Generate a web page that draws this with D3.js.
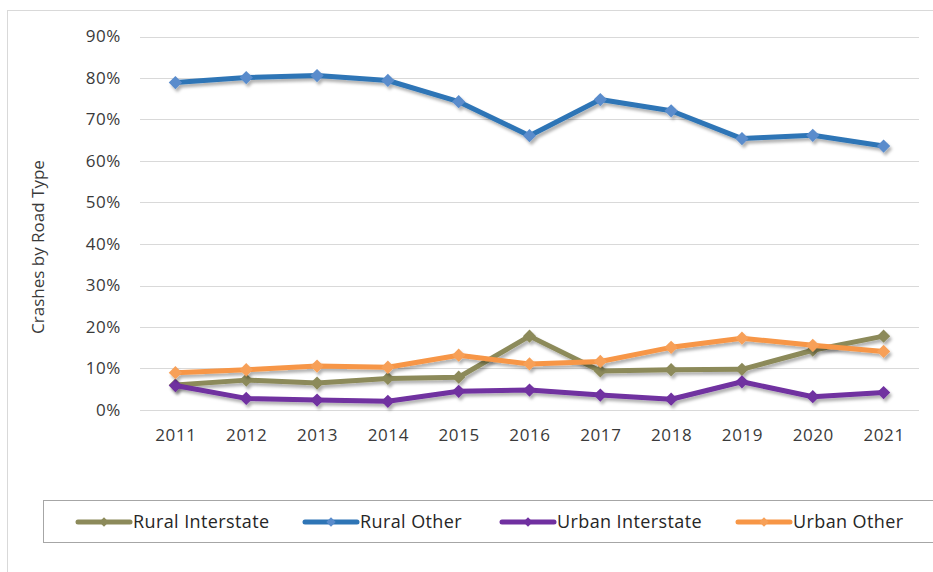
<!DOCTYPE html>
<html>
<head>
<meta charset="utf-8">
<script src="https://cdn.jsdelivr.net/npm/d3@7"></script>
<style>
  html, body { margin: 0; padding: 0; background: #fff; }
  svg { display: block; font-family: "Open Sans", "Noto Sans", sans-serif; }
</style>
</head>
<body>
<svg id="chart" width="933" height="572"></svg>
<script>
const years = ["2011","2012","2013","2014","2015","2016","2017","2018","2019","2020","2021"];
const seriesNames = ["Rural Interstate", "Rural Other", "Urban Interstate", "Urban Other"];
const ruralInterstate = [6.0, 7.2, 6.5, 7.6, 7.9, 17.8, 9.4, 9.7, 9.8, 14.4, 17.8];
const ruralOther      = [78.9, 80.1, 80.6, 79.4, 74.3, 66.1, 74.8, 72.1, 65.4, 66.2, 63.6];
const urbanInterstate = [5.9, 2.8, 2.4, 2.1, 4.5, 4.8, 3.6, 2.6, 6.8, 3.2, 4.2];
const urbanOther      = [9.0, 9.7, 10.6, 10.3, 13.2, 11.1, 11.7, 15.1, 17.3, 15.6, 14.1];
const yTicks = [0, 10, 20, 30, 40, 50, 60, 70, 80, 90];
const yLabel = "Crashes by Road Type";

const seriesValues = [ruralInterstate, ruralOther, urbanInterstate, urbanOther];
const lineColors = ["#8c8a5a", "#2e75b6", "#7030a0", "#f79646"];
const markerColors = ["#8c8a5a", "#5a8ccc", "#7030a0", "#f7a058"];

const svg = d3.select("#chart");

const defs = svg.append("defs");
const f = defs.append("filter").attr("id", "shadow").attr("x", "-10%").attr("y", "-10%").attr("width", "130%").attr("height", "140%");
f.append("feDropShadow").attr("dx", 2).attr("dy", 3).attr("stdDeviation", 1.8)
  .attr("flood-color", "#000").attr("flood-opacity", 0.3);

svg.append("rect").attr("x", 7.5).attr("y", 10.5).attr("width", 940).attr("height", 580)
  .attr("fill", "none").attr("stroke", "#d9d9d9").attr("stroke-width", 1);

const x = d3.scalePoint().domain(years).range([140, 919]).padding(0.5);
const y = d3.scaleLinear().domain([0, 90]).range([410, 36.5]);

svg.append("g").selectAll("line").data(yTicks).join("line")
  .attr("x1", 140).attr("x2", 919)
  .attr("y1", d => Math.round(y(d)) + 0.5).attr("y2", d => Math.round(y(d)) + 0.5)
  .attr("stroke", "#d9d9d9").attr("stroke-width", 1);

const yAxis = d3.axisLeft(y).tickValues(yTicks).tickFormat(d => d + "%").tickSize(0).tickPadding(0);
const gy = svg.append("g").attr("transform", "translate(121,0)").call(yAxis);
gy.select(".domain").remove();
gy.selectAll("text").attr("font-size", 17).attr("fill", "#3a3a3a")
  .attr("font-family", "'Open Sans', sans-serif").attr("letter-spacing", 0.6);

const xAxis = d3.axisBottom(x).tickSize(0).tickPadding(0);
const gx = svg.append("g").attr("transform", "translate(0,429)").call(xAxis);
gx.select(".domain").remove();
gx.selectAll("text").attr("font-size", 17).attr("fill", "#3a3a3a")
  .attr("font-family", "'Open Sans', sans-serif").attr("letter-spacing", 0.6);

svg.append("text").attr("transform", "translate(44,247) rotate(-90)")
  .attr("text-anchor", "middle").attr("font-size", 17).attr("fill", "#3a3a3a")
  .text(yLabel);

const line = d3.line().x((d, i) => x(years[i])).y(d => y(d));
const diamond = d3.symbol().type(d3.symbolSquare).size(88);

seriesValues.forEach((vals, si) => {
  const g = svg.append("g").attr("filter", "url(#shadow)");
  g.append("path").datum(vals).attr("d", line)
    .attr("fill", "none").attr("stroke", lineColors[si]).attr("stroke-width", 5)
    .attr("stroke-linejoin", "round");
  g.selectAll("path.m").data(vals).join("path").attr("class", "m")
    .attr("d", diamond)
    .attr("transform", (d, i) => `translate(${x(years[i])},${y(d)}) rotate(45)`)
    .attr("fill", markerColors[si]);
});

svg.append("rect").attr("x", 43.5).attr("y", 500.5).attr("width", 900).attr("height", 42)
  .attr("fill", "none").attr("stroke", "#a6a6a6").attr("stroke-width", 1);
const legendX = [78, 305, 502, 738];
seriesNames.forEach((name, si) => {
  const g = svg.append("g").attr("transform", `translate(${legendX[si]},522)`);
  g.append("line").attr("x1", 0).attr("x2", 52).attr("y1", 0).attr("y2", 0)
    .attr("stroke", lineColors[si]).attr("stroke-width", 5).attr("stroke-linecap", "round");
  g.append("path").attr("d", d3.symbol().type(d3.symbolSquare).size(44)())
    .attr("transform", "translate(26,0) rotate(45)").attr("fill", markerColors[si]);
  g.append("text").attr("x", 55).attr("y", 0).attr("dy", "0.35em")
    .attr("font-size", 18).attr("letter-spacing", 0.4).attr("fill", "#262626").text(name);
});
</script>
</body>
</html>
